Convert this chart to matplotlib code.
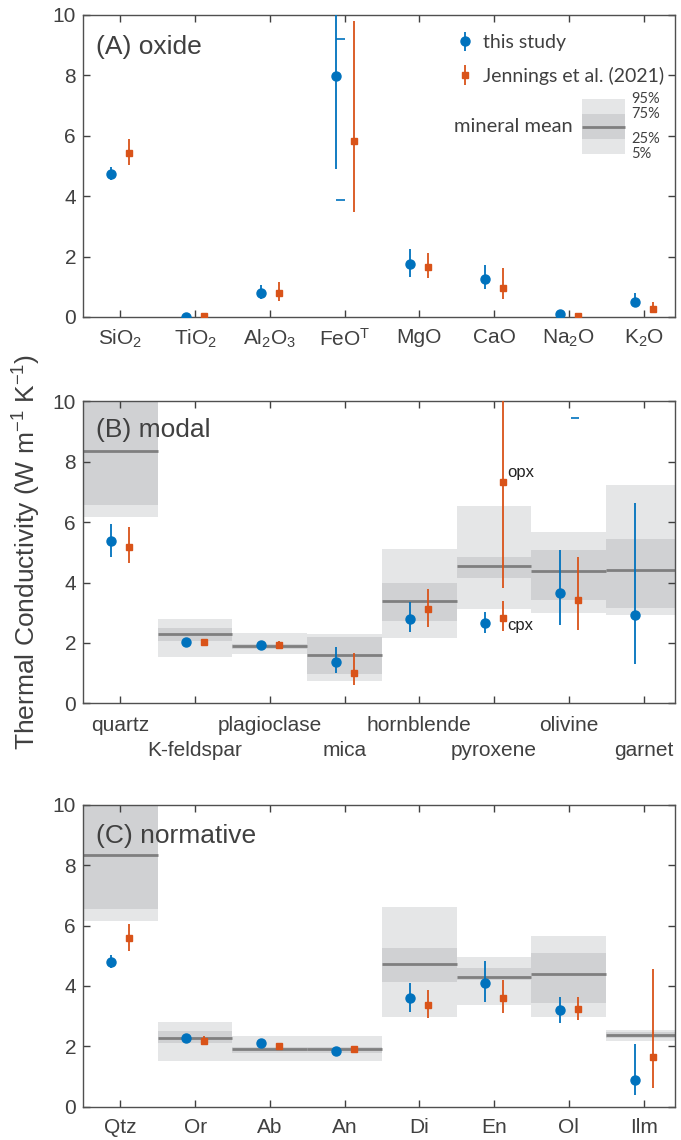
import numpy as np
import matplotlib
matplotlib.use("Agg")
import matplotlib.pyplot as plt

plt.rcParams['font.family'] = ['Liberation Sans', 'DejaVu Sans']
plt.rcParams['mathtext.fontset'] = 'custom'
plt.rcParams['mathtext.rm'] = 'Liberation Sans'
plt.rcParams['mathtext.it'] = 'Liberation Sans'

BLUE = '#0072BD'
ORANGE = '#D95319'
LIGHT = '#e5e6e7'
DARK = '#d0d1d3'
MEANC = '#7f7f7f'
TXT = '#404040'

# ---- (A) oxide ----
oxide_labels = ['SiO$_2$', 'TiO$_2$', 'Al$_2$O$_3$', 'FeO$^\\mathrm{T}$',
                'MgO', 'CaO', 'Na$_2$O', 'K$_2$O']
oxide_this = [4.74, 0.01, 0.80, 7.97, 1.74, 1.27, 0.10, 0.50]
oxide_this_lo = [4.54, 0.00, 0.60, 4.89, 1.33, 0.94, 0.05, 0.32]
oxide_this_hi = [4.98, 0.03, 1.06, 10.5, 2.24, 1.72, 0.15, 0.78]
oxide_jen = [5.44, 0.02, 0.80, 5.84, 1.67, 0.97, 0.03, 0.27]
oxide_jen_lo = [5.03, 0.00, 0.53, 3.49, 1.30, 0.59, 0.00, 0.16]
oxide_jen_hi = [5.89, 0.12, 1.17, 9.81, 2.11, 1.61, 0.06, 0.51]
oxide_dash_y = [9.2, 3.86]   # short blue marks beside FeO

# ---- (B) modal ----
modal_labels = ['quartz', 'K-feldspar', 'plagioclase', 'mica',
                'hornblende', 'pyroxene', 'olivine', 'garnet']
modal_this = [5.36, 2.02, 1.93, 1.36, 2.80, 2.65, 3.64, 2.92]
modal_this_lo = [4.83, 1.97, 1.88, 0.99, 2.35, 2.32, 2.59, 1.30]
modal_this_hi = [5.94, 2.07, 1.98, 1.87, 3.35, 3.02, 5.09, 6.62]
modal_jen = [5.18, 2.02, 1.93, 1.01, 3.13, 2.83, 3.42, np.nan]
modal_jen_lo = [4.63, 1.98, 1.81, 0.62, 2.53, 2.40, 2.42, np.nan]
modal_jen_hi = [5.85, 2.06, 2.06, 1.65, 3.80, 3.38, 4.83, np.nan]
opx_jen, opx_lo, opx_hi = 7.33, 3.82, 10.5
modal_dash_y = 9.46          # short blue mark near olivine
modal_p5 = [6.17, 1.52, 1.63, 0.75, 2.17, 3.13, 3.00, 2.91]
modal_p25 = [6.56, 2.07, 1.81, 0.97, 2.73, 4.16, 3.43, 3.15]
modal_mean = [8.35, 2.28, 1.89, 1.59, 3.39, 4.55, 4.38, 4.41]
modal_p75 = [10.5, 2.48, 1.98, 2.18, 3.98, 4.84, 5.07, 5.43]
modal_p95 = [11.0, 2.79, 2.32, 2.30, 5.10, 6.53, 5.66, 7.22]

# ---- (C) normative ----
norm_labels = ['Qtz', 'Or', 'Ab', 'An', 'Di', 'En', 'Ol', 'Ilm']
norm_this = [4.79, 2.28, 2.10, 1.85, 3.60, 4.11, 3.19, 0.89]
norm_this_lo = [4.58, 2.22, 2.05, 1.80, 3.13, 3.48, 2.78, 0.39]
norm_this_hi = [5.02, 2.34, 2.15, 1.90, 4.09, 4.84, 3.64, 2.07]
norm_jen = [5.59, 2.18, 2.01, 1.92, 3.38, 3.60, 3.24, 1.65]
norm_jen_lo = [5.16, 2.03, 1.95, 1.85, 2.94, 3.09, 2.86, 0.61]
norm_jen_hi = [6.04, 2.35, 2.07, 1.99, 3.88, 4.21, 3.64, 4.55]
norm_p5 = [6.15, 1.52, 1.52, 1.52, 2.98, 3.38, 2.98, 2.18]
norm_p25 = [6.56, 2.10, 1.79, 1.79, 4.13, 4.19, 3.43, 2.29]
norm_mean = [8.32, 2.28, 1.90, 1.90, 4.71, 4.31, 4.38, 2.37]
norm_p75 = [10.5, 2.50, 1.98, 1.98, 5.25, 4.58, 5.08, 2.46]
norm_p95 = [11.0, 2.79, 2.34, 2.34, 6.60, 4.95, 5.64, 2.54]

# key box for "mineral mean"
key_pct = [5.39, 5.90, 6.30, 6.72, 7.22]
key_pct_labels = ['5%', '25%', '', '75%', '95%']

OFF = 0.12


def style_axes(ax, labels):
    ax.set_xlim(0.5, 8.42)
    ax.set_ylim(0, 10)
    ax.set_yticks([0, 2, 4, 6, 8, 10])
    ax.set_xticks(np.arange(1, 9))
    ax.set_xticklabels(labels)
    ax.tick_params(direction='in', length=5, width=1, color='#404040',
                   top=True, right=True, labelsize=15, labelcolor=TXT)
    ax.tick_params(axis='x', pad=8)
    ax.tick_params(axis='y', pad=5)
    for s in ax.spines.values():
        s.set_color('#505050')
        s.set_linewidth(1)


def draw_boxes(ax, p5, p25, mean, p75, p95):
    x = np.arange(1, 9)
    p5, p25, p75, p95 = map(np.array, (p5, p25, p75, p95))
    ax.bar(x, p95 - p5, bottom=p5, width=1.0, color=LIGHT, zorder=1)
    ax.bar(x, p75 - p25, bottom=p25, width=1.0, color=DARK, zorder=1.1)
    ax.hlines(mean, x - 0.5, x + 0.5, color=MEANC, lw=2, zorder=1.2)


def draw_points(ax, this, tlo, thi, jen, jlo, jhi):
    x = np.arange(1, 9)
    this, tlo, thi = map(np.array, (this, tlo, thi))
    jen, jlo, jhi = map(np.array, (jen, jlo, jhi))
    hb = ax.errorbar(x - OFF, this, yerr=[this - tlo, thi - this], fmt='o',
                     color=BLUE, ms=6.5, elinewidth=1.3, capsize=0, zorder=3)
    ho = ax.errorbar(x + OFF, jen, yerr=[jen - jlo, jhi - jen], fmt='s',
                     color=ORANGE, ms=5, elinewidth=1.3, capsize=0, zorder=3)
    return hb, ho


fig = plt.figure(figsize=(6.81, 11.4), dpi=100)
L, W, H = 83 / 681, 592 / 681, 302 / 1140
axA = fig.add_axes([L, 1 - 317 / 1140, W, H])
axB = fig.add_axes([L, 1 - 703.3 / 1140, W, H])
axC = fig.add_axes([L, 1 - 1106.7 / 1140, W, H])

# (A)
hb, ho = draw_points(axA, oxide_this, oxide_this_lo, oxide_this_hi,
                     oxide_jen, oxide_jen_lo, oxide_jen_hi)
axA.hlines(oxide_dash_y, 4 - OFF, 4.0, color=BLUE, lw=1.2, zorder=3)
style_axes(axA, oxide_labels)
axA.text(0.67, 8.95, '(A) oxide', fontsize=19, color=TXT, va='center')
leg = axA.legend([hb, ho], ['this study', 'Jennings et al. (2021)'],
                 loc='upper left', bbox_to_anchor=(0.613, 0.962), frameon=False,
                 borderaxespad=0, borderpad=0.4,
                 handlelength=1.2, handletextpad=0.3, labelspacing=0.8,
                 prop={'family': 'Lato', 'size': 14})
for t in leg.get_texts():
    t.set_color(TXT)
kx0, kx1 = 7.18, 7.75
axA.fill_between([kx0, kx1], key_pct[0], key_pct[4], color=LIGHT, lw=0, zorder=1)
axA.fill_between([kx0, kx1], key_pct[1], key_pct[3], color=DARK, lw=0, zorder=1.1)
axA.hlines(key_pct[2], kx0, kx1, color=MEANC, lw=2, zorder=1.2)
axA.text(7.05, key_pct[2], 'mineral mean', ha='right', va='center',
         fontsize=14.5, color=TXT, family='Lato')
for v, s in zip(key_pct, key_pct_labels):
    if s:
        axA.text(7.83, v, s, ha='left', va='center', fontsize=10.5,
                 color=TXT, family='Lato')

# (B)
draw_boxes(axB, modal_p5, modal_p25, modal_mean, modal_p75, modal_p95)
draw_points(axB, modal_this, modal_this_lo, modal_this_hi,
            modal_jen, modal_jen_lo, modal_jen_hi)
axB.errorbar([6 + OFF], [opx_jen], yerr=[[opx_jen - opx_lo], [opx_hi - opx_jen]],
             fmt='s', color=ORANGE, ms=5, elinewidth=1.3, capsize=0, zorder=3)
axB.hlines(modal_dash_y, 7.03, 7.14, color=BLUE, lw=1.2, zorder=3)
axB.text(6 + OFF + 0.05, opx_jen + 0.3, 'opx', fontsize=12, color='#222222',
         va='center')
axB.text(6 + OFF + 0.05, modal_jen[5] - 0.25, 'cpx', fontsize=12,
         color='#222222', va='center')
# two rows of labels: odd categories on major ticks, even ones on minor ticks
style_axes(axB, [lab if i % 2 == 0 else '' for i, lab in enumerate(modal_labels)])
axB.tick_params(axis='x', pad=9)
axB.xaxis.remove_overlapping_locs = False
axB.set_xticks(np.arange(2, 9, 2), minor=True)
axB.set_xticklabels(modal_labels[1::2], minor=True)
axB.tick_params(axis='x', which='minor', length=0, pad=27.5, labelsize=15,
                labelcolor=TXT)
axB.tick_params(axis='y', which='minor', left=False, right=False)
axB.text(0.67, 9.04, '(B) modal', fontsize=19, color=TXT, va='center')

# (C)
draw_boxes(axC, norm_p5, norm_p25, norm_mean, norm_p75, norm_p95)
draw_points(axC, norm_this, norm_this_lo, norm_this_hi,
            norm_jen, norm_jen_lo, norm_jen_hi)
style_axes(axC, norm_labels)
axC.text(0.67, 8.98, '(C) normative', fontsize=19, color=TXT, va='center')

fig.text(0.039, 0.516, 'Thermal Conductivity (W m$^{-1}$ K$^{-1}$)',
         rotation=90, ha='center', va='center', fontsize=19, color=TXT)

fig.savefig('out.png', dpi=100)
